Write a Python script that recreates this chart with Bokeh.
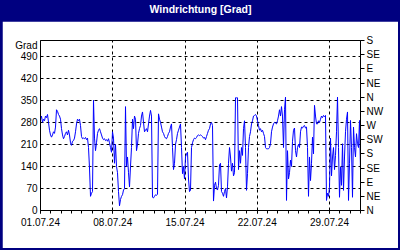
import pandas as pd
from bokeh.plotting import figure
from bokeh.layouts import column
from bokeh.models import (Range1d, LinearAxis, FixedTicker, DatetimeTickFormatter,
                          ColumnDataSource)
from bokeh.embed import file_html
from bokeh.resources import INLINE

# ---------------- data ----------------
title_text = "Windrichtung [Grad]"
unit_label = "Grad"
start_date = "2024-07-01"
end_date = "2024-08-01"
week_ticks = ["2024-07-01", "2024-07-08", "2024-07-15", "2024-07-22", "2024-07-29"]
left_ticks = [0, 70, 140, 210, 280, 350, 420, 490]
unit_label_pos = 525
compass_ticks = [0, 45, 90, 135, 180, 225, 270, 315, 360, 405, 450, 495, 540]
compass_labels = ["N", "NE", "E", "SE", "S", "SW", "W", "NW", "N", "NE", "E", "SE", "S"]

wind_dir = [
    290, 300, 280, 290, 285, 300, 295, 305, 280, 255,
    240, 233, 240, 250, 245, 265, 320, 315, 305, 300,
    290, 260, 240, 228, 235, 245, 250, 240, 255, 240,
    215, 207, 220, 222, 230, 250, 275, 290, 285, 290,
    270, 235, 228, 230, 228, 232, 225, 230, 200, 135,
    45, 55, 60, 350, 230, 190, 215, 245, 255, 260,
    250, 240, 230, 225, 228, 222, 225, 220, 228, 215,
    200, 185, 250, 230, 150, 210, 140, 120, 60, 15,
    35, 45, 50, 65, 70, 330, 140, 170, 120, 75,
    140, 200, 290, 260, 300, 290, 190, 210, 245, 260,
    270, 300, 313, 280, 250, 255, 260, 250, 275, 300,
    318, 300, 42, 40, 45, 50, 48, 52, 307, 290,
    280, 265, 250, 245, 235, 230, 228, 235, 245, 250,
    265, 275, 200, 130, 150, 210, 225, 245, 255, 265,
    275, 200, 117, 140, 100, 170, 180, 185, 100, 60,
    65, 200, 215, 225, 230, 228, 232, 238, 240, 238,
    240, 238, 235, 230, 232, 225, 235, 245, 255, 260,
    275, 280, 270, 30, 80, 90, 70, 65, 80, 145,
    150, 60, 55, 45, 60, 70, 40, 75, 150, 200,
    170, 125, 150, 110, 120, 358, 358, 358, 130, 190,
    150, 200, 175, 260, 285, 200, 64, 117, 200, 235,
    250, 275, 285, 300, 302, 305, 300, 285, 270, 255,
    260, 250, 255, 245, 235, 200, 196, 196, 196, 200,
    212, 250, 265, 275, 280, 278, 275, 285, 300, 320,
    300, 330, 300, 200, 320, 360, 32, 190, 100, 120,
    160, 140, 220, 255, 262, 190, 170, 200, 210, 200,
    250, 265, 262, 268, 270, 262, 265, 200, 45, 170,
    95, 150, 233, 180, 334, 300, 275, 275, 285, 280,
    290, 300, 295, 302, 298, 302, 32, 55, 45, 74,
    230, 110, 170, 200, 130, 175, 250, 360, 200, 42,
    138, 80, 212, 64, 170, 250, 290, 313, 32, 150,
    286, 200, 42, 265, 200, 170, 244, 212, 200, 286,
    127,
]

# ---------------- chart ----------------
def ms(d):
    return pd.Timestamp(d).value / 1e6

times = pd.date_range(start_date, end_date, periods=len(wind_dir))
src = ColumnDataSource(data=dict(time=times, direction=wind_dir))

NAVY = "#000080"
FONT = "Liberation Sans"

# title bar (a tiny figure whose title carries the text)
t = figure(width=400, height=21, title=title_text, output_backend="svg", toolbar_location=None,
           x_axis_location=None, y_axis_location=None,
           min_border_left=0, min_border_right=0, min_border_top=3, min_border_bottom=0,
           x_range=Range1d(0, 1), y_range=Range1d(0, 1))
t.border_fill_color = NAVY
t.background_fill_color = NAVY
t.outline_line_color = None
t.grid.visible = False
t.title.align = "center"
t.title.text_color = "white"
t.title.text_font = FONT
t.title.text_font_style = "bold"
t.title.text_font_size = "10.5px"
t.title.standoff = 0
t.title.offset = 0
t.margin = 0

# main chart
p = figure(width=396, height=227, x_axis_type="datetime",
           x_range=Range1d(ms(start_date), ms(end_date)), y_range=Range1d(0, 540),
           output_backend="svg", toolbar_location=None,
           min_border_left=38, min_border_right=38, min_border_top=19, min_border_bottom=38)
p.margin = (0, 2, 2, 2)
p.background_fill_color = "white"
p.border_fill_color = "white"
p.outline_line_color = "black"
p.outline_line_width = 1
p.outline_line_alpha = 1

# bottom axis
daily = [ms(d) for d in pd.date_range(start_date, end_date, freq="D")]
xax = p.xaxis[0]
xax.ticker = FixedTicker(ticks=[ms(d) for d in week_ticks], minor_ticks=daily)
xax.formatter = DatetimeTickFormatter(days="%d.%m.%y", months="%d.%m.%y", years="%d.%m.%y",
                                      hours="%d.%m.%y", hourmin="%d.%m.%y", minutes="%d.%m.%y")
xax.major_tick_out = 3
xax.major_tick_in = 0
xax.minor_tick_out = 3
xax.minor_tick_in = 0
xax.major_label_standoff = 4

# left axis (with the unit written above the top tick)
yax = p.yaxis[0]
yax.ticker = FixedTicker(ticks=left_ticks + [unit_label_pos])
yax.major_label_overrides = {unit_label_pos: unit_label}
yax.major_tick_out = 0
yax.major_tick_in = 0
yax.minor_tick_out = 0
yax.major_label_standoff = 3

# right compass axis
rax = LinearAxis(ticker=FixedTicker(ticks=compass_ticks),
                 major_label_overrides={tk: lb for tk, lb in zip(compass_ticks, compass_labels)})
rax.major_tick_out = 4
rax.major_tick_in = 0
rax.minor_tick_out = 0
rax.major_label_standoff = 2
p.add_layout(rax, "right")

for ax in (xax, yax, rax):
    ax.axis_line_color = "black"
    ax.major_tick_line_color = "black"
    ax.minor_tick_line_color = "black"
    ax.major_label_text_font = FONT
    ax.major_label_text_font_size = "10px"
    ax.major_label_text_color = "black"

p.ygrid.ticker = FixedTicker(ticks=left_ticks)
for g in (p.xgrid, p.ygrid):
    g.grid_line_color = "black"
    g.grid_line_dash = "3 3"
    g.grid_line_width = 1
    g.grid_line_alpha = 1

p.line(x="time", y="direction", source=src, line_color="#0000FF", line_width=1)

layout = column(t, p, spacing=0, styles={"background-color": NAVY})

open("out.html", "w").write(file_html(layout, INLINE))
